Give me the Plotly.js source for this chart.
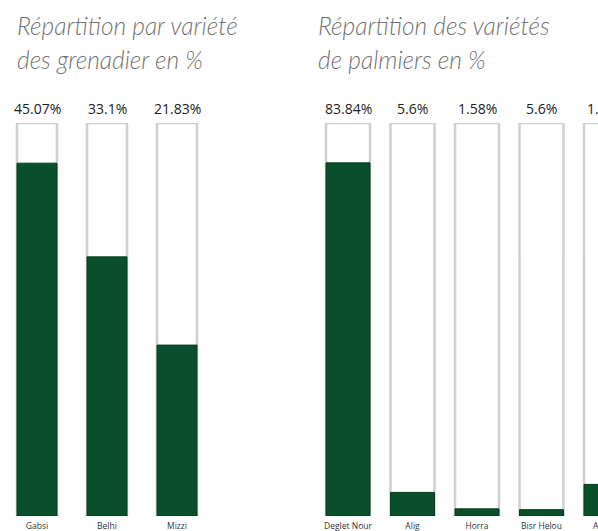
<!DOCTYPE html>
<html>
<head>
<meta charset="utf-8">
<script src="https://cdn.plot.ly/plotly-3.0.1.min.js"></script>
<style>
html,body{margin:0;padding:0;overflow:hidden;background:#fff;width:598px;height:531px;}
#chart{width:640px;height:531px;}
</style>
</head>
<body>
<div id="chart"></div>
<script>
// Grenadier (pomegranate) varieties
var grenCategories = ["Gabsi", "Belhi", "Mizzi"];
var grenValues = [45.07, 33.1, 21.83];
var grenLabels = ["45.07%", "33.1%", "21.83%"];
var grenMax = 50.2;

// Palm varieties (bar heights as drawn; labels as printed)
var palmCategories = ["Deglet Nour", "Alig", "Horra", "Bisr Helou", "Autres"];
var palmValues = [83.84, 5.6, 1.7, 1.5, 7.5];
var palmLabels = ["83.84%", "5.6%", "1.58%", "5.6%", "1.58%"];
var palmMax = 93.3;

var titles1 = ["Répartition par variété", "des grenadier en %"];
var titles2 = ["Répartition des variétés", "de palmiers en %"];

var W = 640, H = 531;
var green = "#0a4f2b";
var frame = "#d0d0d0";

function fill(n, v){ var a=[]; for(var i=0;i<n;i++) a.push(v); return a; }

var traces = [
  {type:"bar", x:grenCategories, y:fill(grenCategories.length, grenMax), xaxis:"x", yaxis:"y",
   marker:{color:"#ffffff", line:{color:frame, width:2.5}}, hoverinfo:"skip"},
  {type:"bar", x:grenCategories, y:grenValues, xaxis:"x", yaxis:"y",
   marker:{color:green, line:{color:"#073d20", width:1}}},
  {type:"bar", x:palmCategories, y:fill(palmCategories.length, palmMax), xaxis:"x2", yaxis:"y2",
   marker:{color:"#ffffff", line:{color:frame, width:2.5}}, hoverinfo:"skip"},
  {type:"bar", x:palmCategories, y:palmValues, xaxis:"x2", yaxis:"y2",
   marker:{color:green, line:{color:"#073d20", width:1}}}
];

var annotations = [];
grenCategories.forEach(function(c,i){
  annotations.push({x:c, y:grenMax, xref:"x", yref:"y", text:grenLabels[i], showarrow:false,
    yanchor:"bottom", yshift:3, font:{family:"Open Sans", size:14, color:"#222"}});
});
palmCategories.forEach(function(c,i){
  annotations.push({x:c, y:palmMax, xref:"x2", yref:"y2", text:palmLabels[i], showarrow:false,
    yanchor:"bottom", yshift:3, font:{family:"Open Sans", size:14, color:"#222"}});
});
var tfont = {family:"Lato", size:24.5, color:"#747474", style:"italic", weight:300};
[[titles1, 15], [titles2, 316]].forEach(function(t){
  t[0].forEach(function(line, k){
    annotations.push({x:t[1]/W, y:1 - (35 + k*33.5)/H, xref:"paper", yref:"paper", text:line,
      showarrow:false, xanchor:"left", yanchor:"bottom", yshift:-7, font:tfont});
  });
});

var ydom = [(H-516)/H, (H-123)/H];
var layout = {
  width:W, height:H,
  margin:{l:0, r:0, t:0, b:0},
  paper_bgcolor:"#fff", plot_bgcolor:"#fff",
  barmode:"overlay",
  showlegend:false,
  xaxis:{domain:[2/W, 212/W], range:[-0.5, 2.5], type:"category", showgrid:false, zeroline:false,
    showline:false, ticks:"", ticklabelstandoff:3, tickfont:{family:"Open Sans", size:8.5, color:"#333"}, fixedrange:true},
  yaxis:{domain:ydom, range:[0, grenMax], showgrid:false, zeroline:false, showline:false,
    showticklabels:false, ticks:"", fixedrange:true},
  xaxis2:{domain:[315.75/W, 638.25/W], range:[-0.5, 4.5], type:"category", showgrid:false, zeroline:false,
    showline:false, ticks:"", ticklabelstandoff:3, tickfont:{family:"Open Sans", size:8.5, color:"#333"}, anchor:"y2", fixedrange:true},
  yaxis2:{domain:ydom, range:[0, palmMax], showgrid:false, zeroline:false, showline:false,
    showticklabels:false, ticks:"", anchor:"x2", fixedrange:true},
  annotations:annotations
};
traces[0].width = 40/70; traces[1].width = 40/70;
traces[2].width = 44/64.5; traces[3].width = 44/64.5;

Plotly.newPlot("chart", traces, layout, {displayModeBar:false, staticPlot:true});
</script>
</body>
</html>
